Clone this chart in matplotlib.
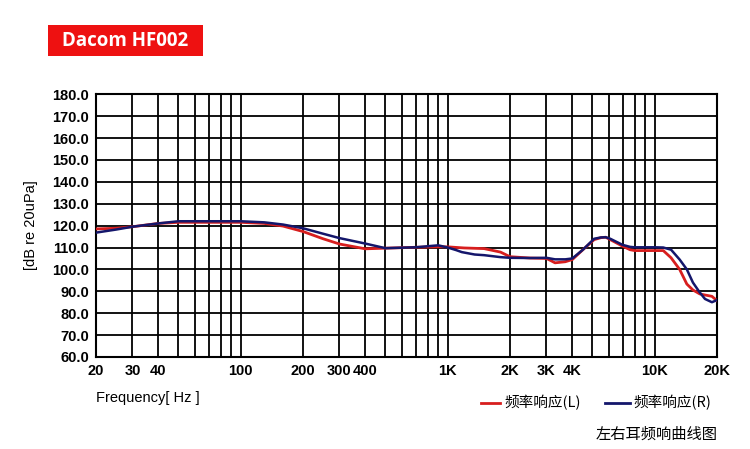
import numpy as np
import matplotlib
matplotlib.use('Agg')
import matplotlib.pyplot as plt
from matplotlib.ticker import FixedLocator, NullFormatter
from matplotlib.lines import Line2D
from matplotlib.patches import Rectangle

plt.rcParams['font.family'] = ['Liberation Sans', 'Noto Sans CJK SC', 'DejaVu Sans']

# 左耳 (red)
freq_l = [20, 25, 30, 40, 50, 70, 100, 130, 160, 200, 250, 300, 400, 500, 700, 900, 1000, 1200,
          1500, 1800, 2000, 2500, 3000, 3150, 3300, 3700, 4000, 4500, 5100, 5500, 5800, 6100,
          7000, 7600, 8000, 10000, 11000, 12000, 13200, 14300, 15300, 16500, 17500, 18900, 20000]
spl_l = [118.5, 118.8, 119.5, 121.0, 121.5, 121.5, 121.5, 121.0, 119.8, 117.3, 114.0, 111.6,
         109.4, 109.7, 110.1, 110.3, 110.3, 109.8, 109.5, 107.9, 105.8, 105.2, 105.0, 104.0,
         103.0, 103.5, 104.5, 109.0, 113.6, 114.5, 114.7, 113.6, 110.6, 109.0, 108.6, 108.6,
         108.6, 105.3, 100.0, 93.3, 90.6, 88.8, 88.3, 87.7, 85.7]
# 右耳 (blue)
freq_r = [20, 25, 30, 40, 50, 70, 100, 130, 160, 200, 250, 300, 400, 500, 700, 900, 1000, 1100,
          1170, 1350, 1500, 1800, 2000, 2500, 3000, 3300, 3700, 4000, 4500, 5100, 5500, 5800,
          6100, 7000, 7600, 8000, 10000, 11000, 12000, 13200, 14300, 15300, 16500, 17500,
          18900, 20000]
spl_r = [116.8, 118.2, 119.5, 121.0, 122.0, 122.0, 122.0, 121.5, 120.5, 118.8, 116.3, 114.3,
         111.8, 109.7, 110.1, 111.0, 110.0, 108.8, 107.9, 106.8, 106.5, 105.6, 105.3, 105.2,
         105.3, 104.6, 104.6, 105.0, 109.0, 114.0, 114.6, 114.7, 114.0, 111.2, 110.3, 110.1,
         110.1, 110.0, 109.0, 104.5, 100.0, 94.0, 89.5, 86.5, 85.0, 86.0]

xtick_vals = [20, 30, 40, 100, 200, 300, 400, 1000, 2000, 3000, 4000, 10000, 20000]
xtick_labels = ['20', '30', '40', '100', '200', '300', '400', '1K', '2K', '3K', '4K', '10K', '20K']
ytick_vals = np.arange(60, 181, 10)

red = '#d71e1e'
navy = '#14166b'

fig = plt.figure(figsize=(7.5, 4.49), dpi=100)
ax = fig.add_axes([0.128, 0.205, 0.828, 0.585])

ax.set_xscale('log')
ax.set_xlim(20, 20000)
ax.set_ylim(60, 180)

# log grid: every 1..9 of each decade
grid_x = [m * 10 ** d for d in range(1, 5) for m in range(1, 10) if 20 <= m * 10 ** d <= 20000]
ax.xaxis.set_major_locator(FixedLocator(xtick_vals))
ax.xaxis.set_minor_locator(FixedLocator(grid_x))
ax.xaxis.set_minor_formatter(NullFormatter())
ax.set_xticklabels(xtick_labels, fontsize=10.5, fontweight='bold')
ax.set_yticks(ytick_vals)
ax.set_yticklabels(['%.1f' % v for v in ytick_vals], fontsize=10.5, fontweight='bold')
ax.tick_params(which='both', length=0, pad=5)

for gx in grid_x:
    ax.axvline(gx, color='black', lw=1.3, zorder=1)
for gy in ytick_vals:
    ax.axhline(gy, color='black', lw=1.3, zorder=1)
for s in ax.spines.values():
    s.set_linewidth(1.5)

ax.plot(freq_l, spl_l, color=red, lw=2, zorder=3, solid_joinstyle='round')
ax.plot(freq_r, spl_r, color=navy, lw=1.8, zorder=4, solid_joinstyle='round')

ax.set_ylabel('[dB re 20uPa]', fontsize=10.5, labelpad=10)

# title box
fig.add_artist(Rectangle((0.064, 0.876), 0.207, 0.068, transform=fig.transFigure,
                         fc='#ee1111', ec='none'))
fig.text(0.167, 0.909, 'Dacom HF002', color='white', fontsize=13.5, fontweight='bold',
         family=['Open Sans', 'DejaVu Sans'], va='center', ha='center')

fig.text(0.128, 0.113, 'Frequency[ Hz ]', fontsize=10.5, va='center')

# legend
fig.add_artist(Line2D([0.641, 0.667], [0.103, 0.103], color=red, lw=2))
fig.text(0.672, 0.103, '频率响应(L)', fontsize=10.5, va='center',
         family=['Noto Sans CJK SC', 'DejaVu Sans'])
fig.add_artist(Line2D([0.806, 0.840], [0.103, 0.103], color=navy, lw=2))
fig.text(0.845, 0.103, '频率响应(R)', fontsize=10.5, va='center',
         family=['Noto Sans CJK SC', 'DejaVu Sans'])

fig.text(0.957, 0.032, '左右耳频响曲线图', fontsize=11, ha='right', va='center',
         family=['Noto Sans CJK SC', 'DejaVu Sans'])

fig.savefig('out.png', dpi=100)
